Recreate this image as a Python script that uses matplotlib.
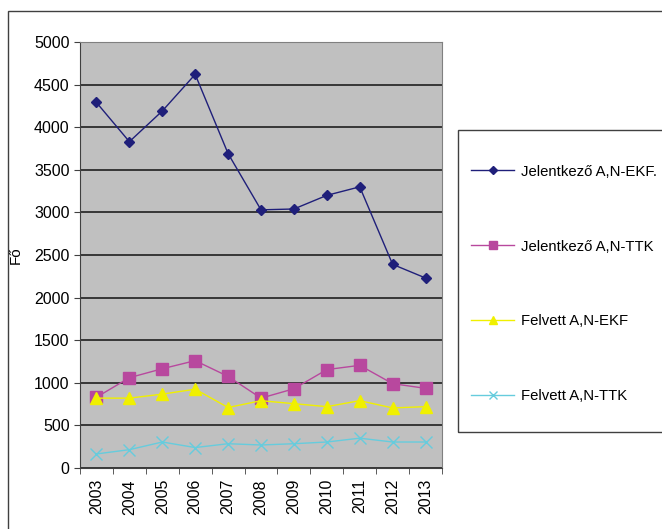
import numpy as np
import matplotlib.pyplot as plt
from matplotlib.patches import Rectangle

plt.rcParams['font.family'] = ['Liberation Sans', 'DejaVu Sans']

years = ['2003', '2004', '2005', '2006', '2007', '2008', '2009', '2010', '2011', '2012', '2013']
jel_ekf = [4290, 3830, 4190, 4620, 3690, 3030, 3040, 3200, 3300, 2390, 2230]
jel_ttk = [830, 1060, 1165, 1260, 1075, 820, 930, 1155, 1205, 990, 935]
felv_ekf = [820, 820, 867, 925, 710, 790, 755, 720, 790, 705, 720]
felv_ttk = [165, 215, 305, 240, 285, 270, 285, 305, 350, 305, 305]
labels = ['Jelentkező A,N-EKF.', 'Jelentkező A,N-TTK', 'Felvett A,N-EKF', 'Felvett A,N-TTK']

fig = plt.figure(figsize=(6.62, 5.29), dpi=100)
# outer chart frame
fig.patches.append(Rectangle((8 / 662, -0.01), 0.99, (529 - 11) / 529 + 0.01,
                             transform=fig.transFigure, fill=False,
                             edgecolor='#404040', lw=1.0))

ax = fig.add_axes([80 / 662, 61 / 529, 362 / 662, 426 / 529])
ax.set_facecolor('#c0c0c0')
x = np.arange(len(years))

l1, = ax.plot(x, jel_ekf, color='#1f1f7a', lw=1, marker='D', ms=5.5)
l2, = ax.plot(x, jel_ttk, color='#b8489e', lw=1, marker='s', ms=8)
l3, = ax.plot(x, felv_ekf, color='#f0f000', lw=1, marker='^', ms=8)
l4, = ax.plot(x, felv_ttk, color='#66ccdd', lw=1, marker='x', ms=8, mew=1)

ax.set_xlim(-0.5, len(years) - 0.5)
ax.set_ylim(0, 5000)
ax.set_yticks(range(0, 5001, 500))
ax.yaxis.grid(True, color='#202020', lw=1.2)
ax.set_axisbelow(True)

ax.set_xticks(x)
ax.set_xticklabels(years, rotation=90, fontsize=11.5)
ax.tick_params(axis='x', length=0, pad=8)
ax.set_xticks(np.arange(-0.5, len(years)), minor=True)
ax.tick_params(axis='x', which='minor', length=4, color='#404040')
ax.tick_params(axis='y', labelsize=11.5, length=4, color='#404040')
ax.set_ylabel('Fő', fontsize=11)
ax.yaxis.set_label_coords(-57 / 362, 0.5)

for s in ['top', 'right']:
    ax.spines[s].set_color('#808080')
for s in ['left', 'bottom']:
    ax.spines[s].set_color('#404040')

# legend box
fig.patches.append(Rectangle((458 / 662, (529 - 432) / 529), 0.31, 302 / 529,
                             transform=fig.transFigure, fill=False,
                             edgecolor='#404040', lw=1.0))
fig.legend([l1, l2, l3, l4], labels, loc='center left',
           bbox_to_anchor=(458 / 662, (529 - 284) / 529), frameon=False,
           fontsize=10.7, labelspacing=4.1, handlelength=2.9,
           handletextpad=0.45, markerscale=0.8)

fig.savefig('out.png', dpi=100)
